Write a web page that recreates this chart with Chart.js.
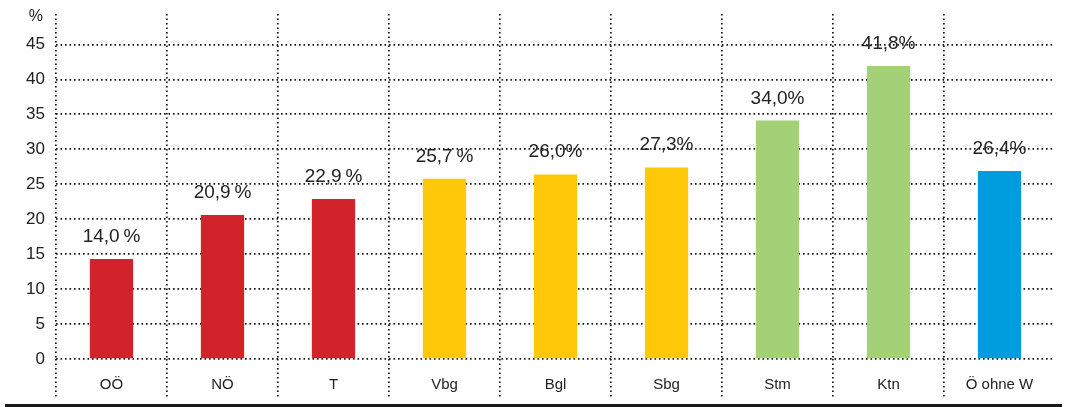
<!DOCTYPE html>
<html>
<head>
<meta charset="utf-8">
<script src="https://cdn.jsdelivr.net/npm/chart.js@4/dist/chart.umd.min.js"></script>
<style>
  html, body { margin: 0; padding: 0; background: #fff; }
  #wrap { position: relative; width: 1066px; height: 407px; }
  #rule { position: absolute; left: 5px; top: 404px; width: 1057px; height: 3px; background: #1a1a1a; }
</style>
</head>
<body>
<div id="wrap">
  <canvas id="chart" width="1066" height="407"></canvas>
  <div id="rule"></div>
</div>
<script>
// data
const regions = ['OÖ', 'NÖ', 'T', 'Vbg', 'Bgl', 'Sbg', 'Stm', 'Ktn', 'Ö ohne W'];
const shares = [14.3, 20.6, 22.9, 25.8, 26.4, 27.4, 34.1, 41.9, 26.9];
const shareLabels = ['14,0\u2009%', '20,9\u2009%', '22,9\u2009%', '25,7\u2009%', '26,0%', '27,3%', '34,0%', '41,8%', '26,4%'];
const barColors = ['#D2232A', '#D2232A', '#D2232A', '#FFC90A', '#FFC90A', '#FFC90A', '#A4D177', '#A4D177', '#009DDE'];
const yTicks = [0, 5, 10, 15, 20, 25, 30, 35, 40, 45];

const FONT = '"Liberation Sans", Arial, Helvetica, sans-serif';
const INK = '#222';
const DOT = '#151515';
const DASH = [1.6, 2.9];

// value labels above bars + "%" unit
const labelPlugin = {
    id: 'barLabels',
    afterDatasetsDraw(chart) {
        const ctx = chart.ctx;
        const meta = chart.getDatasetMeta(0);
        ctx.save();
        ctx.fillStyle = INK;
        ctx.font = '19px ' + FONT;
        ctx.textAlign = 'center';
        ctx.textBaseline = 'alphabetic';
        meta.data.forEach((bar, i) => {
            ctx.fillText(shareLabels[i], bar.x, bar.y - 17);
        });
        const ys = chart.scales.y;
        ctx.font = '16px ' + FONT;
        ctx.textAlign = 'right';
        ctx.textBaseline = 'middle';
        ctx.fillText('%', ys.right - 13, chart.chartArea.top + 3);
        ctx.restore();
    }
};

new Chart(document.getElementById('chart').getContext('2d'), {
    type: 'bar',
    data: {
        labels: regions,
        datasets: [{
            data: shares,
            backgroundColor: barColors,
            borderWidth: 0,
            categoryPercentage: 1,
            barPercentage: 0.39
        }]
    },
    options: {
        responsive: false,
        animation: false,
        layout: { padding: { top: 14, right: 11, left: 0, bottom: 0 } },
        plugins: { legend: { display: false }, tooltip: { enabled: false } },
        scales: {
            x: {
                offset: true,
                afterFit: (s) => { s.height = 48; s.paddingLeft = 0; s.paddingRight = 0; },
                border: { display: false, dash: DASH },
                grid: {
                    offset: true,
                    drawOnChartArea: true,
                    drawTicks: true,
                    tickLength: 40,
                    lineWidth: 1.7,
                    tickWidth: 1.7,
                    color: (c) => c.type === 'tick' ? DOT : 'rgba(0,0,0,0)',
                    tickColor: (c) => c.type === 'tick' ? DOT : 'rgba(0,0,0,0)',
                    tickBorderDash: DASH
                },
                ticks: {
                    color: INK,
                    font: { family: FONT, size: 15 },
                    padding: -23,
                    maxRotation: 0
                }
            },
            y: {
                min: 0,
                max: 49.35,
                afterFit: (s) => { s.width = 56; s.paddingTop = 0; s.paddingBottom = 0; },
                afterBuildTicks: (s) => { s.ticks = yTicks.map(v => ({ value: v })); },
                border: { display: false, dash: DASH },
                grid: {
                    drawTicks: false,
                    lineWidth: 1.7,
                    color: DOT
                },
                ticks: {
                    color: INK,
                    font: { family: FONT, size: 17 },
                    padding: 11
                }
            }
        }
    },
    plugins: [labelPlugin]
});
</script>
</body>
</html>
